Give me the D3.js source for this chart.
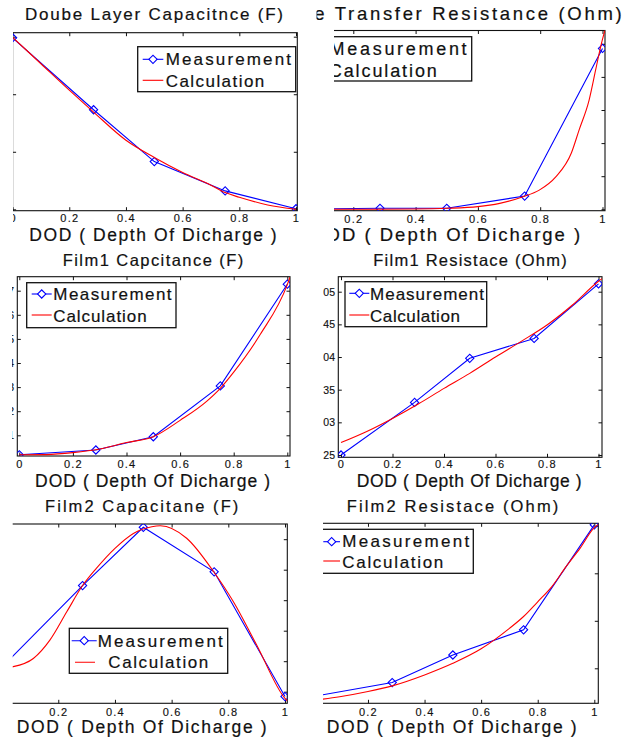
<!DOCTYPE html>
<meta charset="utf-8">
<body style="margin:0;background:#fff">
<svg id="chart" width="633" height="740"></svg>
<script src="https://cdn.jsdelivr.net/npm/d3@7"></script>
<script>
  // DOD values of the measurements (same in every panel)
  var dod = [0, 0.2857, 0.5, 0.75, 1];
  var xTicks = [0, 0.2, 0.4, 0.6, 0.8, 1];
  var xTickLabels = ["0", "0.2", "0.4", "0.6", "0.8", "1"];

  // Double layer capacitance (y axis labels cropped off, tick units)
  var dlcTicks = [0, 1, 2, 3];
  var dlcMeas = [2.98, 1.73, 0.83, 0.32, 0.01];
  var dlcCalcDod = [0, 0.1, 0.2, 0.2857, 0.4, 0.5, 0.6, 0.7, 0.75, 0.8, 0.9, 1];
  var dlcCalc = [2.99, 2.53, 2.07, 1.69, 1.20, 0.90, 0.64, 0.42, 0.29, 0.21, 0.075, 0];

  // Charge transfer resistance
  var ctrTicks = [0, 1, 2, 3, 4, 5];
  var ctrMeas = [0, 0.03, 0.03, 0.40, 4.86];
  var ctrCalcDod = [0, 0.2, 0.4, 0.5, 0.6, 0.67, 0.745, 0.797, 0.85, 0.9, 0.925, 0.957, 0.978, 0.994, 1.008];
  var ctrCalc = [0, 0, 0.01, 0.03, 0.08, 0.18, 0.38, 0.58, 0.98, 1.7, 2.4, 3.3, 4.21, 4.91, 5.42];

  // Film1 capacitance
  var f1cTicks = [1, 2, 3, 4, 5, 6, 7];
  var f1cTickLabels = ["1", "2", "3", "4", "5", "6", "7"];
  var f1cMeas = [0.19, 0.39, 0.94, 3.05, 7.27];
  var f1cCalcDod = [0, 0.1, 0.2, 0.3, 0.4, 0.5, 0.6, 0.7, 0.75, 0.8, 0.9, 1, 1.01];
  var f1cCalc = [0.19, 0.2, 0.28, 0.43, 0.7, 0.94, 1.62, 2.42, 2.95, 3.62, 5.2, 7.25, 7.56];

  // Film1 resistance
  var f1rTicks = [25, 30, 35, 40, 45, 50];
  var f1rTickLabels = ["25", "03", "35", "04", "45", "05"];
  var f1rMeas = [25.0, 33.05, 39.8, 42.85, 51.2];
  var f1rCalcDod = [0, 0.1, 0.2, 0.3, 0.4, 0.5, 0.6, 0.7, 0.8, 0.9, 1, 1.017];
  var f1rCalc = [26.9, 28.6, 30.6, 32.8, 35.2, 37.5, 40.0, 42.4, 44.9, 48.0, 51.6, 52.1];

  // Film2 capacitance
  var f2cTicks = [0, 1, 2, 3, 4, 5];
  var f2cMeas = [0.79, 3.48, 5.39, 3.93, -0.16];
  var f2cCalcDod = [0, 0.04, 0.112, 0.171, 0.23, 0.2857, 0.335, 0.4, 0.465, 0.53, 0.56, 0.653, 0.747, 0.818, 0.9, 1, 1.008];
  var f2cCalc = [0.78, 0.82, 1.09, 1.70, 2.62, 3.48, 4.05, 4.70, 5.19, 5.41, 5.44, 5.03, 3.95, 2.95, 1.53, -0.22, -0.3];

  // Film2 resistance
  var f2rTicks = [0, 1, 2, 3];
  var f2rMeas = [-0.60, -0.30, 0.28, 0.81, 3.02];
  var f2rCalcDod = [0, 0.1, 0.2, 0.2857, 0.4, 0.5, 0.6, 0.7, 0.75, 0.8, 0.85, 0.9, 0.95, 1, 1.015];
  var f2rCalc = [-0.68, -0.60, -0.49, -0.37, -0.14, 0.105, 0.41, 0.84, 1.09, 1.40, 1.72, 2.14, 2.53, 2.96, 3.03];

  var legendNames = ["Measurement", "Calculation"];
  var xLabel = "DOD ( Depth Of Dicharge )";

  // layout of each sub plot (the picture is a cropped montage, hence the crops)
  var panels = [
    {title: "Doube Layer Capacitnce (F)", meas: dlcMeas, calcX: dlcCalcDod, calc: dlcCalc, yTicks: dlcTicks, yLabels: null,
      x0: 12.6, x1: 296, box: [12.6, 297.3, 32.7, 210.7], yPx: [209.3, 36.7],
      titleAt: [25, 20, 17, 258], xlabAt: [29.3, 241, 17.5, 247.4],
      leg: {box: [137.7, 295.7, 46.7, 91.7], size: 17, m: [165.7, 65, 125.3], c: [165.7, 86.7, 98.6], mLine: [142.7, 163.3, 59.3], cLine: [142.7, 163.3, 80.3]},
      tickBase: 222, crop: [[13, 0, 297, 250]]},
    {title: "e Transfer Resistance (Ohm)", meas: ctrMeas, calcX: ctrCalcDod, calc: ctrCalc, yTicks: ctrTicks, yLabels: null,
      x0: 291, x1: 602.5, box: [291, 605, 30.5, 210.7], yPx: [209.3, 43.8],
      titleAt: [314.3, 20, 18.5, 307.4], xlabAt: [310.2, 240.7, 18.5, 270],
      leg: {box: [300, 471.7, 36.7, 81], size: 18, m: [329.6, 55, 137], c: [328.8, 76.7, 108], mLine: [305, 325, 49.5], cLine: [305, 325, 71]},
      tickBase: 222.7, crop: [[316.5, 0, 317, 28], [334, 28, 299, 222]]},
    {title: "Film1 Capcitance (F)", meas: f1cMeas, calcX: f1cCalcDod, calc: f1cCalc, yTicks: f1cTicks, yLabels: f1cTickLabels,
      x0: 19.3, x1: 287.3, box: [17.3, 290, 276.7, 456], yPx: [435.3, 290.7],
      titleAt: [62.7, 265.7, 16.5, 180.6], xlabAt: [35, 487.3, 17.5, 235],
      leg: {box: [26.7, 176, 282.7, 327.7], size: 17, m: [53.3, 300, 118.3], c: [53.3, 321.7, 93.3], mLine: [31.7, 51.7, 294], cLine: [31.7, 51.7, 315]},
      tickBase: 468.3, crop: [[12, 250, 300, 245]]},
    {title: "Film1 Resistace (Ohm)", meas: f1rMeas, calcX: f1rCalcDod, calc: f1rCalc, yTicks: f1rTicks, yLabels: f1rTickLabels,
      x0: 341, x1: 598.5, box: [338.3, 602, 276.7, 457.3], yPx: [455, 291.7],
      titleAt: [373.3, 265.7, 16.5, 193.4], xlabAt: [356.7, 487.3, 17.5, 225],
      leg: {box: [345, 486.7, 281.7, 326.7], size: 17, m: [370, 300, 114], c: [370, 321.7, 90], mLine: [349.3, 369.3, 293.3], cLine: [349.3, 369.3, 315]},
      tickBase: 468.3, crop: [[310, 250, 323, 245]]},
    {title: "Film2 Capacitane (F)", meas: f2cMeas, calcX: f2cCalcDod, calc: f2cCalc, yTicks: f2cTicks, yLabels: null,
      x0: 1.6, x1: 285, box: [-0.4, 287.3, 524, 703.3], yPx: [691.7, 539.2],
      titleAt: [45, 511.7, 16.5, 193.3], xlabAt: [16.7, 733.3, 17.5, 250],
      leg: {box: [69.3, 227.7, 628.3, 673.3], size: 17, m: [97.7, 646.7, 125], c: [108.3, 667.7, 100], mLine: [71.7, 96.7, 640.7], cLine: [75, 95, 662.3]},
      tickBase: 715.7, crop: [[12.7, 495, 300, 245]]},
    {title: "Film2 Resistace (Ohm)", meas: f2rMeas, calcX: f2rCalcDod, calc: f2rCalc, yTicks: f2rTicks, yLabels: null,
      x0: 311.4, x1: 594.3, box: [309, 598.3, 523.3, 703.3], yPx: [668.3, 525.8],
      titleAt: [346.7, 511.7, 16.5, 211.6], xlabAt: [326.7, 733.3, 17.5, 250],
      leg: {box: [310, 473.3, 529.3, 573.3], size: 17, m: [342.3, 546.7, 127], c: [342.3, 568.3, 101], mLine: [323.3, 340, 541.7], cLine: [323.3, 340, 561]},
      tickBase: 715.7, crop: [[323, 495, 310, 245]]}
  ];

  var font = "'Liberation Sans', Arial, Helvetica, sans-serif";
  var ink = "#111";
  var blue = "#0000ff", red = "#ff0000";
  var tickFont = 11;

  var svg = d3.select("#chart");
  var defs = svg.append("defs");
  var diamond = d3.symbol().type(d3.symbolSquare).size(34);

  function putText(g, str, spec) {
    g.append("text")
      .attr("x", spec[0])
      .attr("y", spec[1])
      .attr("font-size", spec[2])
      .attr("textLength", spec[3])
      .attr("lengthAdjust", "spacing")
      .attr("fill", ink)
      .attr("stroke", ink)
      .attr("stroke-width", 0.2)
      .text(str);
  }

  function styleAxis(sel) {
    sel.select(".domain").remove();
    sel.attr("font-family", font).attr("font-size", tickFont).attr("color", ink);
    sel.selectAll("line").attr("stroke-width", 1);
    sel.selectAll("text").attr("stroke", ink).attr("stroke-width", 0.15);
  }

  panels.forEach(function(p, i) {
    var crop = defs.append("clipPath").attr("id", "crop" + i);
    p.crop.forEach(function(r) {
      crop.append("rect").attr("x", r[0]).attr("y", r[1]).attr("width", r[2]).attr("height", r[3]);
    });
    var cropLeft = p.crop[p.crop.length - 1][0];
    var b = p.box;
    defs.append("clipPath").attr("id", "box" + i)
      .append("rect")
      .attr("x", b[0]).attr("y", b[2]).attr("width", b[1] - b[0]).attr("height", b[3] - b[2]);

    var g = svg.append("g")
      .attr("clip-path", "url(#crop" + i + ")")
      .attr("font-family", font);

    var x = d3.scaleLinear().domain([0, 1]).range([p.x0, p.x1]);
    var y = d3.scaleLinear()
      .domain([p.yTicks[0], p.yTicks[p.yTicks.length - 1]])
      .range(p.yPx);

    // axes: MATLAB style, ticks pointing inwards on all four sides
    var bottom = g.append("g")
      .attr("transform", "translate(0," + b[3] + ")")
      .call(d3.axisBottom(x).tickValues(xTicks).tickSize(-3.5)
        .tickPadding(p.tickBase - b[3] - 0.71 * tickFont)
        .tickFormat(function(d, k) { return xTickLabels[k]; }))
      .call(styleAxis);
    bottom.selectAll("text").style("letter-spacing", "1.2px");
    // labels that fall wholly outside the cropped picture are not drawn
    bottom.selectAll(".tick").filter(function(d) { return x(d) < cropLeft - 2; })
      .select("text").remove();

    g.append("g")
      .attr("transform", "translate(0," + b[2] + ")")
      .call(d3.axisTop(x).tickValues(xTicks).tickSize(-3.5).tickFormat(""))
      .call(styleAxis);

    var left = g.append("g")
      .attr("transform", "translate(" + b[0] + ",0)")
      .call(d3.axisLeft(y).tickValues(p.yTicks).tickSize(-3.5).tickPadding(3.3)
        .tickFormat(function(d, k) { return p.yLabels ? p.yLabels[k] : ""; }))
      .call(styleAxis);
    left.selectAll("text").attr("font-size", 10.5);

    g.append("g")
      .attr("transform", "translate(" + b[1] + ",0)")
      .call(d3.axisRight(y).tickValues(p.yTicks).tickSize(-3.5).tickFormat(""))
      .call(styleAxis);

    g.append("rect")
      .attr("x", b[0]).attr("y", b[2])
      .attr("width", b[1] - b[0]).attr("height", b[3] - b[2])
      .attr("fill", "none").attr("stroke", ink).attr("stroke-width", 1.1);

    // data
    var plot = g.append("g").attr("clip-path", "url(#box" + i + ")");
    var measPts = dod.map(function(d, k) { return [d, p.meas[k]]; });
    var calcPts = p.calcX.map(function(d, k) { return [d, p.calc[k]]; });

    plot.append("path")
      .datum(measPts)
      .attr("d", d3.line().x(function(d) { return x(d[0]); }).y(function(d) { return y(d[1]); }))
      .attr("fill", "none").attr("stroke", blue).attr("stroke-width", 1.1);

    plot.selectAll(".mk")
      .data(measPts)
      .enter().append("path")
      .attr("class", "mk")
      .attr("d", diamond)
      .attr("transform", function(d) { return "translate(" + x(d[0]) + "," + y(d[1]) + ") rotate(45)"; })
      .attr("fill", "none").attr("stroke", blue).attr("stroke-width", 1.1);

    plot.append("path")
      .datum(calcPts)
      .attr("d", d3.line().curve(d3.curveMonotoneX)
        .x(function(d) { return x(d[0]); }).y(function(d) { return y(d[1]); }))
      .attr("fill", "none").attr("stroke", red).attr("stroke-width", 1.1);

    // texts
    putText(g, p.title, p.titleAt);
    putText(g, xLabel, p.xlabAt);

    // legend
    var L = p.leg;
    g.append("rect")
      .attr("x", L.box[0]).attr("y", L.box[2])
      .attr("width", L.box[1] - L.box[0]).attr("height", L.box[3] - L.box[2])
      .attr("fill", "#fff").attr("stroke", ink).attr("stroke-width", 1.3);
    g.append("line")
      .attr("x1", L.mLine[0]).attr("x2", L.mLine[1]).attr("y1", L.mLine[2]).attr("y2", L.mLine[2])
      .attr("stroke", blue).attr("stroke-width", 1.1);
    g.append("path")
      .attr("d", diamond)
      .attr("transform", "translate(" + (L.mLine[0] + L.mLine[1]) / 2 + "," + L.mLine[2] + ") rotate(45)")
      .attr("fill", "#fff").attr("stroke", blue).attr("stroke-width", 1.1);
    g.append("line")
      .attr("x1", L.cLine[0]).attr("x2", L.cLine[1]).attr("y1", L.cLine[2]).attr("y2", L.cLine[2])
      .attr("stroke", red).attr("stroke-width", 1.1);
    putText(g, legendNames[0], [L.m[0], L.m[1], L.size, L.m[2]]);
    putText(g, legendNames[1], [L.c[0], L.c[1], L.size, L.c[2]]);
  });
</script>
